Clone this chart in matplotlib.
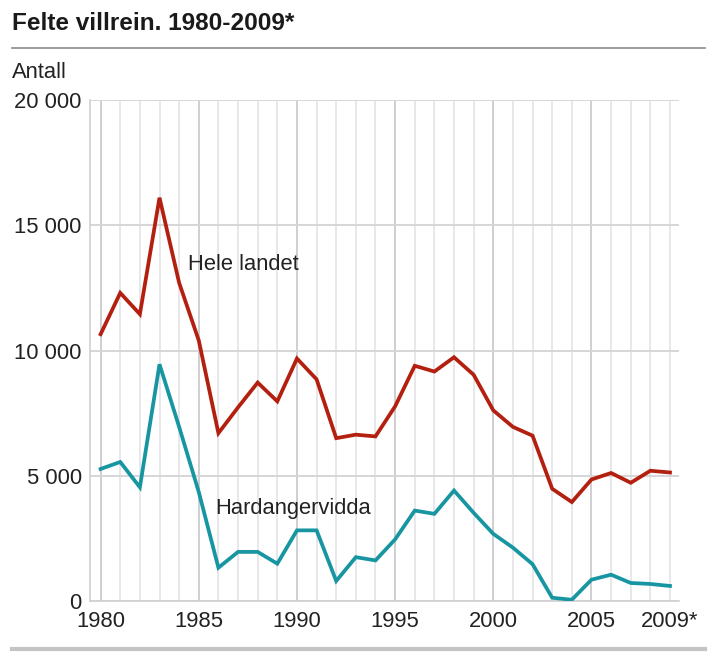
import matplotlib
matplotlib.use("Agg")
import matplotlib.pyplot as plt
from matplotlib.lines import Line2D

plt.rcParams['font.family'] = ['Liberation Sans', 'DejaVu Sans']

years = list(range(1980, 2010))
hele_landet = [10650, 12300, 11450, 16100, 12700, 10400, 6700, 7730, 8720, 7970,
               9680, 8850, 6500, 6640, 6570, 7770, 9390, 9160, 9730, 9030,
               7610, 6950, 6600, 4480, 3950, 4850, 5110, 4720, 5200, 5130]
hardangervidda = [5270, 5550, 4540, 9450, 6950, 4350, 1330, 1960, 1960, 1490,
                  2820, 2820, 800, 1750, 1620, 2460, 3610, 3480, 4410, 3520,
                  2680, 2130, 1470, 130, 50, 850, 1050, 720, 680, 600]
y_ticks = [0, 5000, 10000, 15000, 20000]
y_labels = ["0", "5 000", "10 000", "15 000", "20 000"]
x_ticks = [1980, 1985, 1990, 1995, 2000, 2005, 2009]
x_labels = ["1980", "1985", "1990", "1995", "2000", "2005", "2009*"]

W, H = 715, 660
fig = plt.figure(figsize=(W / 100, H / 100), dpi=100)
ax = fig.add_axes([90 / W, 1 - 601 / H, (679 - 90) / W, (601 - 100) / H])

red = "#b3200f"
teal = "#1796a2"

for yr in years:
    ax.axvline(yr, color="#cfcfd2" if yr % 5 == 0 else "#e2e2e4",
               lw=1.4 if yr % 5 == 0 else 1.1, zorder=1)
for yv in y_ticks:
    ax.axhline(yv, color="#d6d6d8", lw=1.4, zorder=1)

ax.plot(years, hele_landet, color=red, lw=2.7, solid_joinstyle="miter", zorder=3)
ax.plot(years, hardangervidda, color=teal, lw=2.7, solid_joinstyle="miter", zorder=3)

ax.set_xlim(1980 - 10.6 / 19.62, 2009 + 9 / 19.62)
ax.set_ylim(0, 20000)
ax.set_yticks(y_ticks)
ax.set_yticklabels(y_labels)
ax.set_xticks(x_ticks)
ax.set_xticklabels(x_labels)
ax.tick_params(axis="both", length=0, labelsize=15.8, colors="#222222")
ax.tick_params(axis="y", pad=6)
ax.tick_params(axis="x", pad=7)
for s in ["top", "right"]:
    ax.spines[s].set_visible(False)
ax.spines["left"].set_color("#d0d0d2")
ax.spines["left"].set_linewidth(1.2)
ax.spines["bottom"].set_color("#d0d0d2")
ax.spines["bottom"].set_linewidth(1.2)

ax.text(1984.45, 13450, "Hele landet", fontsize=15.8, color="#222222",
        ha="left", va="center", zorder=4)
ax.text(1985.83, 3710, "Hardangervidda", fontsize=15.8, color="#222222",
        ha="left", va="center", zorder=4)

fig.text(12 / W, 1 - 23 / H, "Felte villrein. 1980-2009*", fontsize=17.6,
         fontweight="bold", color="#1a1a1a", ha="left", va="center")
fig.add_artist(Line2D([12 / W, 705 / W], [1 - 48 / H, 1 - 48 / H],
                      color="#8a8a8a", lw=1.2, transform=fig.transFigure))
fig.text(12 / W, 1 - 72 / H, "Antall", fontsize=15.8, color="#222222",
         ha="left", va="center")
fig.add_artist(Line2D([12 / W, 705 / W], [1 - 649 / H, 1 - 649 / H],
                      color="#c4c4c4", lw=3, transform=fig.transFigure))

fig.savefig("out.png", dpi=100)
